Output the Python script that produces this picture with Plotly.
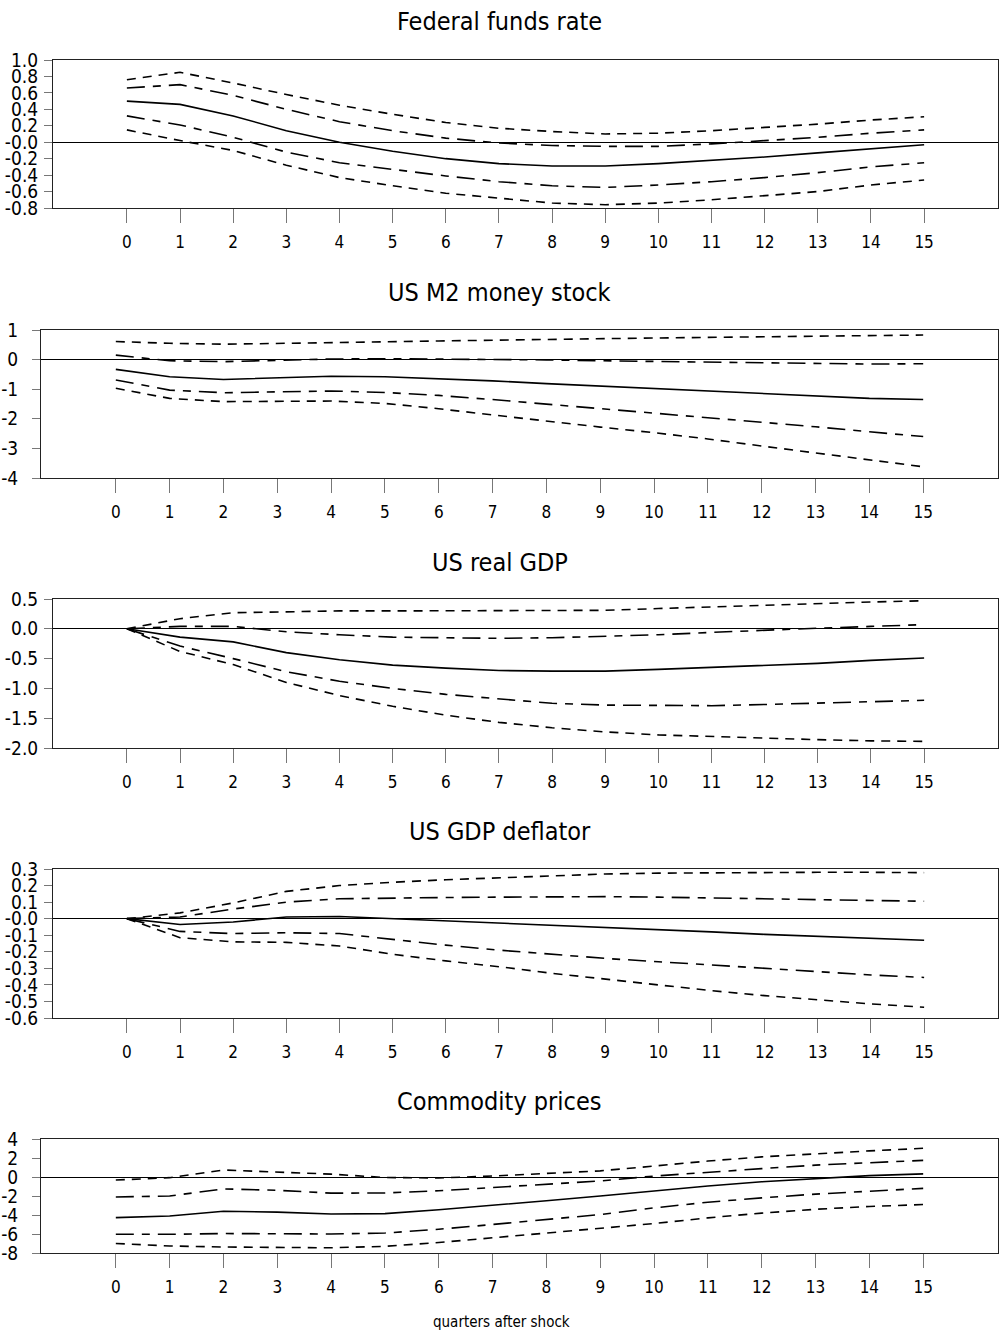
import plotly.graph_objects as go

quarters = list(range(16))

titles = ["Federal funds rate", "US M2 money stock", "US real GDP",
          "US GDP deflator", "Commodity prices"]
x_title = "quarters after shock"

# ---- Federal funds rate ----
ffr_mid = [0.50, 0.46, 0.32, 0.14, 0.00, -0.11, -0.20, -0.26, -0.29, -0.29, -0.26, -0.22, -0.18, -0.13, -0.08, -0.03]
ffr_in_up = [0.66, 0.70, 0.57, 0.40, 0.25, 0.14, 0.05, -0.01, -0.04, -0.05, -0.05, -0.02, 0.02, 0.06, 0.11, 0.15]
ffr_in_lo = [0.32, 0.21, 0.06, -0.12, -0.25, -0.33, -0.41, -0.48, -0.53, -0.55, -0.52, -0.48, -0.43, -0.37, -0.30, -0.25]
ffr_out_up = [0.76, 0.85, 0.72, 0.58, 0.45, 0.34, 0.24, 0.17, 0.13, 0.10, 0.11, 0.14, 0.18, 0.22, 0.27, 0.31]
ffr_out_lo = [0.15, 0.02, -0.10, -0.28, -0.43, -0.53, -0.62, -0.68, -0.74, -0.76, -0.74, -0.70, -0.65, -0.60, -0.52, -0.46]
ffr_ticks = [1.0, 0.8, 0.6, 0.4, 0.2, 0.0, -0.2, -0.4, -0.6, -0.8]
ffr_ticktext = ["1.0", "0.8", "0.6", "0.4", "0.2", "-0.0", "-0.2", "-0.4", "-0.6", "-0.8"]

# ---- US M2 money stock ----
m2_mid = [-0.33, -0.58, -0.67, -0.61, -0.56, -0.58, -0.64, -0.72, -0.81, -0.89, -0.97, -1.06, -1.15, -1.23, -1.31, -1.35]
m2_in_up = [0.15, -0.04, -0.07, -0.03, 0.02, 0.03, 0.02, 0.01, -0.01, -0.04, -0.06, -0.09, -0.11, -0.13, -0.15, -0.14]
m2_in_lo = [-0.69, -1.03, -1.12, -1.09, -1.06, -1.11, -1.21, -1.35, -1.50, -1.65, -1.80, -1.95, -2.11, -2.27, -2.44, -2.60]
m2_out_up = [0.61, 0.55, 0.52, 0.54, 0.57, 0.60, 0.63, 0.66, 0.69, 0.71, 0.73, 0.75, 0.77, 0.79, 0.81, 0.83]
m2_out_lo = [-0.97, -1.31, -1.42, -1.40, -1.40, -1.48, -1.66, -1.87, -2.08, -2.28, -2.47, -2.68, -2.92, -3.16, -3.39, -3.62]
m2_ticks = [1, 0, -1, -2, -3, -4]
m2_ticktext = ["1", "0", "-1", "-2", "-3", "-4"]

# ---- US real GDP ----
gdp_mid = [0.0, -0.14, -0.22, -0.40, -0.52, -0.61, -0.66, -0.70, -0.71, -0.71, -0.68, -0.65, -0.61, -0.58, -0.53, -0.49]
gdp_in_up = [0.0, 0.04, 0.04, -0.05, -0.10, -0.14, -0.15, -0.16, -0.15, -0.13, -0.10, -0.06, -0.02, 0.01, 0.04, 0.07]
gdp_in_lo = [0.0, -0.29, -0.50, -0.72, -0.88, -1.00, -1.10, -1.18, -1.25, -1.28, -1.29, -1.29, -1.27, -1.25, -1.22, -1.20]
gdp_out_up = [0.0, 0.17, 0.27, 0.29, 0.30, 0.30, 0.30, 0.30, 0.30, 0.31, 0.34, 0.37, 0.40, 0.43, 0.45, 0.47]
gdp_out_lo = [0.0, -0.38, -0.60, -0.90, -1.12, -1.30, -1.45, -1.57, -1.66, -1.73, -1.78, -1.81, -1.84, -1.86, -1.88, -1.89]
gdp_ticks = [0.5, 0.0, -0.5, -1.0, -1.5, -2.0]
gdp_ticktext = ["0.5", "0.0", "-0.5", "-1.0", "-1.5", "-2.0"]

# ---- US GDP deflator ----
defl_mid = [0.0, -0.035, -0.02, 0.01, 0.013, 0.0, -0.012, -0.025, -0.038, -0.05, -0.065, -0.08, -0.095, -0.108, -0.12, -0.13]
defl_in_up = [0.0, 0.01, 0.058, 0.10, 0.12, 0.126, 0.128, 0.13, 0.132, 0.133, 0.13, 0.125, 0.12, 0.115, 0.11, 0.105]
defl_in_lo = [0.0, -0.077, -0.09, -0.085, -0.09, -0.125, -0.16, -0.19, -0.215, -0.24, -0.26, -0.28, -0.30, -0.32, -0.34, -0.355]
defl_out_up = [0.0, 0.035, 0.095, 0.165, 0.20, 0.22, 0.235, 0.248, 0.26, 0.27, 0.275, 0.278, 0.28, 0.28, 0.28, 0.278]
defl_out_lo = [0.0, -0.115, -0.14, -0.143, -0.165, -0.215, -0.255, -0.29, -0.33, -0.365, -0.40, -0.435, -0.465, -0.49, -0.515, -0.535]
defl_ticks = [0.3, 0.2, 0.1, 0.0, -0.1, -0.2, -0.3, -0.4, -0.5, -0.6]
defl_ticktext = ["0.3", "0.2", "0.1", "-0.0", "-0.1", "-0.2", "-0.3", "-0.4", "-0.5", "-0.6"]

# ---- Commodity prices ----
com_mid = [-4.28, -4.10, -3.60, -3.70, -3.90, -3.85, -3.45, -3.00, -2.50, -2.00, -1.47, -0.95, -0.50, -0.15, 0.15, 0.33]
com_in_up = [-2.10, -2.00, -1.25, -1.40, -1.70, -1.68, -1.45, -1.10, -0.75, -0.42, 0.10, 0.53, 0.88, 1.25, 1.50, 1.75]
com_in_lo = [-6.03, -6.03, -5.95, -5.95, -6.00, -5.90, -5.50, -5.00, -4.50, -3.95, -3.25, -2.65, -2.20, -1.80, -1.50, -1.20]
com_out_up = [-0.32, -0.07, 0.74, 0.55, 0.30, -0.05, -0.10, 0.10, 0.35, 0.65, 1.15, 1.68, 2.12, 2.45, 2.75, 3.02]
com_out_lo = [-7.00, -7.26, -7.37, -7.40, -7.45, -7.30, -6.90, -6.40, -5.90, -5.45, -4.90, -4.30, -3.80, -3.40, -3.10, -2.90]
com_ticks = [4, 2, 0, -2, -4, -6, -8]
com_ticktext = ["4", "2", "0", "-2", "-4", "-6", "-8"]

panels = [
    (ffr_mid, ffr_in_up, ffr_in_lo, ffr_out_up, ffr_out_lo, ffr_ticks, ffr_ticktext),
    (m2_mid, m2_in_up, m2_in_lo, m2_out_up, m2_out_lo, m2_ticks, m2_ticktext),
    (gdp_mid, gdp_in_up, gdp_in_lo, gdp_out_up, gdp_out_lo, gdp_ticks, gdp_ticktext),
    (defl_mid, defl_in_up, defl_in_lo, defl_out_up, defl_out_lo, defl_ticks, defl_ticktext),
    (com_mid, com_in_up, com_in_lo, com_out_up, com_out_lo, com_ticks, com_ticktext),
]

# ---- layout geometry (pixels) ----
W, H = 999, 1335
box_left = [53, 41, 53, 53, 41]
box_right = 998
box_top = [60, 330, 599, 869, 1139]
box_bottom = [208, 478, 748, 1018, 1253]
title_y = [22, 292, 562, 831, 1101]
ylab_standoff = [2, 10, 2, 2, 10]
xrange_ = [-1.39, 16.39]

FONT = "DejaVu Sans Condensed, Liberation Sans Narrow, Arial Narrow, sans-serif"
SOLID_W = 1.6
DASH_W = 1.6
LONG_DASH = "18px,8px,8px,8px"
SHORT_DASH = "9px,7px"

fig = go.Figure()
layout = dict(
    width=W, height=H, autosize=False,
    margin=dict(l=0, r=0, t=0, b=0, pad=0, autoexpand=False),
    paper_bgcolor="white", plot_bgcolor="white",
    showlegend=False,
    font=dict(family=FONT, color="black", size=18),
    annotations=[],
)

for i, (mid, iu, il, ou, ol, yt, ytt) in enumerate(panels):
    n = i + 1
    xa = "x" if n == 1 else f"x{n}"
    ya = "y" if n == 1 else f"y{n}"
    series = [(ou, SHORT_DASH), (iu, LONG_DASH), (mid, "solid"), (il, LONG_DASH), (ol, SHORT_DASH)]
    for vals, dash in series:
        fig.add_trace(go.Scatter(
            x=quarters, y=vals, mode="lines", xaxis=xa, yaxis=ya,
            line=dict(color="black", width=SOLID_W if dash == "solid" else DASH_W, dash=dash),
            hoverinfo="skip"))
    xkey = "xaxis" if n == 1 else f"xaxis{n}"
    ykey = "yaxis" if n == 1 else f"yaxis{n}"
    layout[xkey] = dict(
        domain=[box_left[i] / W, box_right / W], anchor=ya, range=xrange_,
        tickmode="array", tickvals=quarters, ticktext=[str(q) for q in quarters],
        ticks="outside", ticklen=14, tickwidth=1, tickcolor="#777",
        showline=True, linecolor="#222", linewidth=1, mirror=True,
        showgrid=False, zeroline=False, ticklabelstandoff=5, automargin=False,
        tickfont=dict(family=FONT, size=17, color="black"),
    )
    layout[ykey] = dict(
        domain=[1 - box_bottom[i] / H, 1 - box_top[i] / H], anchor=xa,
        range=[yt[-1], yt[0]],
        tickmode="array", tickvals=yt, ticktext=ytt,
        ticks="outside", ticklen=8, tickwidth=1, tickcolor="#777",
        showline=True, linecolor="#222", linewidth=1, mirror=True,
        showgrid=False, zeroline=True, zerolinecolor="black", zerolinewidth=1,
        ticklabelstandoff=ylab_standoff[i], automargin=False,
        tickfont=dict(family=FONT, size=19, color="black"),
    )
    layout["annotations"].append(dict(
        text=titles[i], xref="paper", yref="paper", x=0.5, y=1 - title_y[i] / H,
        xanchor="center", yanchor="middle", showarrow=False,
        font=dict(family=FONT, size=25, color="black")))

layout["annotations"].append(dict(
    text=x_title, xref="paper", yref="paper", x=501 / W, y=1 - 1322 / H,
    xanchor="center", yanchor="middle", showarrow=False,
    font=dict(family=FONT, size=15, color="black")))

fig.update_layout(**layout)
fig.write_html("out.html", config={"displayModeBar": False},
               post_script="document.body.style.margin='0';document.body.style.padding='0';")
